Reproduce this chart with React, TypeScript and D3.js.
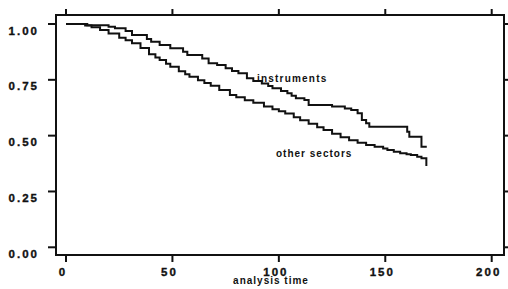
import React from "react";
import * as d3 from "d3";

const xTicks = [0, 50, 100, 150, 200];
const yTicks = [0, 0.25, 0.5, 0.75, 1.0];
const yTickLabels = ["0.00", "0.25", "0.50", "0.75", "1.00"];

const instrumentsTime = [0, 10, 20, 23, 28, 31, 38, 40, 44, 49, 55, 57, 64, 67, 71, 75, 78, 81, 85, 88, 92, 95, 97, 101, 104, 106, 108, 112, 114, 125, 131, 134, 137, 139, 141, 142.5, 160.3, 161.3, 167, 169.5];
const instrumentsSurv = [1.0, 0.994, 0.988, 0.981, 0.969, 0.951, 0.933, 0.921, 0.906, 0.891, 0.876, 0.861, 0.846, 0.824, 0.816, 0.802, 0.790, 0.779, 0.757, 0.745, 0.734, 0.722, 0.712, 0.700, 0.690, 0.679, 0.667, 0.660, 0.637, 0.630, 0.622, 0.615, 0.600, 0.570, 0.555, 0.540, 0.518, 0.495, 0.450, 0.450];

const otherTime = [0, 9, 12, 16, 20, 25, 28, 31, 35, 39, 42, 44, 47, 49, 53, 56, 58, 62, 65, 68, 72, 77, 80, 84, 88, 93, 97, 100, 103, 107, 110, 114, 118, 121, 125, 129, 133, 137, 141, 145, 149, 151, 154, 157, 160, 162, 165, 167, 169.3];
const otherSurv = [1.0, 0.993, 0.985, 0.973, 0.958, 0.938, 0.927, 0.914, 0.892, 0.864, 0.850, 0.839, 0.822, 0.809, 0.788, 0.775, 0.764, 0.748, 0.736, 0.724, 0.704, 0.682, 0.672, 0.659, 0.647, 0.631, 0.618, 0.609, 0.599, 0.582, 0.569, 0.553, 0.538, 0.525, 0.508, 0.493, 0.479, 0.468, 0.458, 0.450, 0.442, 0.436, 0.428, 0.421, 0.417, 0.413, 0.406, 0.399, 0.364];

const seriesLabels = ["instruments", "other sectors"];
const xTitle = "analysis time";

export default function App() {
  const W = 508, H = 289;
  const frame = { left: 56, right: 504, top: 15, bottom: 255 };
  const x = d3.scaleLinear().domain([0, 200]).range([66, 491.7]);
  const y = d3.scaleLinear().domain([0, 1]).range([247.3, 24]);
  const line = d3
    .line<[number, number]>()
    .x((d) => x(d[0]))
    .y((d) => y(d[1]))
    .curve(d3.curveStepAfter);
  const inst: [number, number][] = instrumentsTime.map((t, i) => [t, instrumentsSurv[i]]);
  const oth: [number, number][] = otherTime.map((t, i) => [t, otherSurv[i]]);
  const font = "'Liberation Sans', Arial, Helvetica, sans-serif";
  const ink = "#111";

  return (
    <svg
      width={W}
      height={H}
      style={{ position: "absolute", left: 0, top: 0, background: "#fff" }}
    >
      <rect x={0} y={0} width={W} height={H} fill="#fff" />
      <rect
        x={frame.left}
        y={frame.top}
        width={frame.right - frame.left}
        height={frame.bottom - frame.top}
        fill="none"
        stroke={ink}
        strokeWidth={2}
      />
      {xTicks.map((t) => (
        <g key={"xt" + t}>
          <line x1={x(t)} x2={x(t)} y1={frame.bottom} y2={frame.bottom + 7} stroke={ink} strokeWidth={2} />
          <line x1={x(t)} x2={x(t)} y1={frame.top} y2={frame.top - 6} stroke={ink} strokeWidth={2} />
          <text
            x={x(t) - 3}
            y={275.5}
            textAnchor="middle"
            fontFamily={font}
            fontWeight="bold"
            fontSize={11.5}
            letterSpacing={2}
            fill={ink}
            stroke={ink}
            strokeWidth={0.35}
          >
            {String(t)}
          </text>
        </g>
      ))}
      {yTicks.map((v, i) => (
        <g key={"yt" + v}>
          <line x1={frame.left - 8} x2={frame.left} y1={y(v)} y2={y(v)} stroke={ink} strokeWidth={2} />
          <line x1={frame.right} x2={frame.right + 5} y1={y(v)} y2={y(v)} stroke={ink} strokeWidth={2} />
          <text
            x={39}
            y={y(v) + 10.5}
            textAnchor="end"
            fontFamily={font}
            fontWeight="bold"
            fontSize={11.5}
            letterSpacing={2}
            fill={ink}
            stroke={ink}
            strokeWidth={0.35}
          >
            {yTickLabels[i]}
          </text>
        </g>
      ))}
      <text
        x={271}
        y={284}
        textAnchor="middle"
        fontFamily={font}
        fontWeight="bold"
        fontSize={10}
        letterSpacing={1}
        fill={ink}
      >
        {xTitle}
      </text>
      <path d={line(oth) || ""} fill="none" stroke={ink} strokeWidth={2} />
      <path d={line(inst) || ""} fill="none" stroke={ink} strokeWidth={2} />
      <text x={257} y={81.5} fontFamily={font} fontWeight="bold" fontSize={10} letterSpacing={1.2} fill={ink}>
        {seriesLabels[0]}
      </text>
      <text x={276} y={157} fontFamily={font} fontWeight="bold" fontSize={10} letterSpacing={1} fill={ink}>
        {seriesLabels[1]}
      </text>
    </svg>
  );
}
